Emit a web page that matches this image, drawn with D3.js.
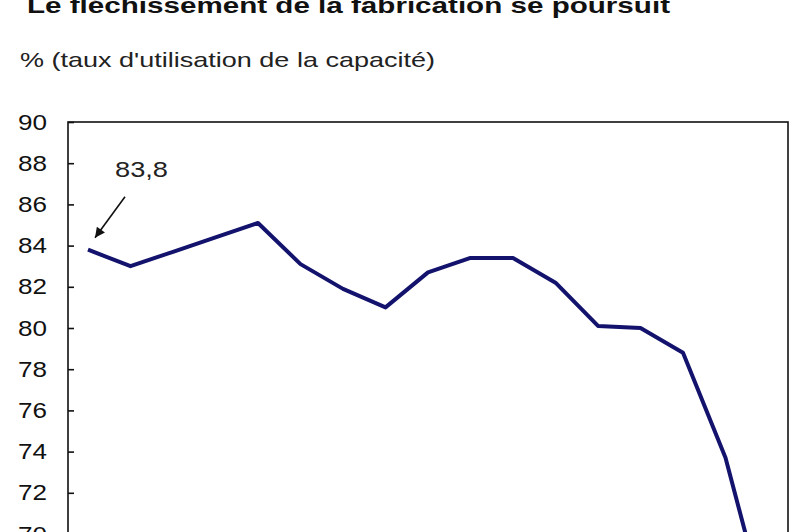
<!DOCTYPE html>
<html>
<head>
<meta charset="utf-8">
<script src="https://cdn.jsdelivr.net/npm/d3@7/dist/d3.min.js"></script>
<style>
  html, body { margin: 0; padding: 0; background: #fff; overflow: hidden; }
  svg { display: block; }
  text { font-family: "Liberation Sans", Arial, sans-serif; fill: #111; }
</style>
</head>
<body>
<svg id="chart" width="800" height="532"></svg>
<script>
// ---- data ----
const quarters = ["2005 T1","2005 T2","2005 T3","2005 T4",
                  "2006 T1","2006 T2","2006 T3","2006 T4",
                  "2007 T1","2007 T2","2007 T3","2007 T4",
                  "2008 T1","2008 T2","2008 T3","2008 T4",
                  "2009 T1"];
const rates = [83.8, 83.0, 83.7, 84.4, 85.1, 83.1, 81.9, 81.0, 82.7,
               83.4, 83.4, 82.2, 80.1, 80.0, 78.8, 73.7, 65.9];
const yTicks = [90, 88, 86, 84, 82, 80, 78, 76, 74, 72, 70];
const titleText = "Le fléchissement de la fabrication se poursuit";
const subtitleText = "% (taux d'utilisation de la capacité)";
const annotationText = "83,8";

(function () {
  // ---- layout ----
  const svg = d3.select("#chart");
  const plotLeft = 68, plotRight = 788, plotTop = 122;

  const y = d3.scaleLinear().domain([70, 90]).range([534, 122]);
  const yMin = 62;
  const plotBottom = y(yMin);
  const x = d3.scalePoint().domain(quarters).range([88, 768]);

  // title
  svg.append("text")
    .attr("x", 27).attr("y", 13)
    .attr("font-size", 22).attr("font-weight", "bold")
    .attr("textLength", 643).attr("lengthAdjust", "spacingAndGlyphs")
    .text(titleText);

  // subtitle
  svg.append("text")
    .attr("x", 20).attr("y", 67)
    .attr("font-size", 21)
    .attr("textLength", 415).attr("lengthAdjust", "spacingAndGlyphs")
    .style("fill", "#222")
    .text(subtitleText);

  // frame
  svg.append("rect")
    .attr("x", plotLeft).attr("y", plotTop)
    .attr("width", plotRight - plotLeft).attr("height", plotBottom - plotTop)
    .attr("fill", "none").attr("stroke", "#111").attr("stroke-width", 1.6);

  // y axis
  const yAxis = d3.axisLeft(y).tickValues(yTicks).tickFormat(d3.format("d"))
    .tickSizeInner(-6).tickSizeOuter(0).tickPadding(21);
  const gy = svg.append("g").attr("transform", `translate(${plotLeft},0)`).call(yAxis);
  gy.select(".domain").remove();
  gy.selectAll(".tick line").attr("stroke", "#111").attr("stroke-width", 1.6);
  gy.selectAll(".tick text")
    .attr("font-family", "Liberation Sans, Arial, sans-serif")
    .attr("font-size", 22).attr("fill", "#222")
    .attr("textLength", 29).attr("lengthAdjust", "spacingAndGlyphs");

  // line
  const line = d3.line().x((d, i) => x(quarters[i])).y(d => y(d));
  svg.append("path")
    .datum(rates)
    .attr("d", line)
    .attr("fill", "none")
    .attr("stroke", "#13136e")
    .attr("stroke-width", 4)
    .attr("stroke-linejoin", "round");

  // annotation with arrow
  const defs = svg.append("defs");
  defs.append("marker")
    .attr("id", "arrow").attr("viewBox", "0 0 10 10")
    .attr("refX", 10).attr("refY", 5)
    .attr("markerWidth", 12).attr("markerHeight", 10)
    .attr("markerUnits", "userSpaceOnUse")
    .attr("orient", "auto")
    .append("path").attr("d", "M0,0 L10,5 L0,10 Z").attr("fill", "#111");

  const px = x(quarters[0]), py = y(rates[0]);
  svg.append("line")
    .attr("x1", px + 37).attr("y1", py - 53)
    .attr("x2", px + 7).attr("y2", py - 12)
    .attr("stroke", "#111").attr("stroke-width", 1.6)
    .attr("marker-end", "url(#arrow)");

  svg.append("text")
    .attr("x", px + 27).attr("y", py - 73)
    .attr("font-size", 22)
    .attr("textLength", 53).attr("lengthAdjust", "spacingAndGlyphs")
    .style("fill", "#222")
    .text(annotationText);
})();
</script>
</body>
</html>
